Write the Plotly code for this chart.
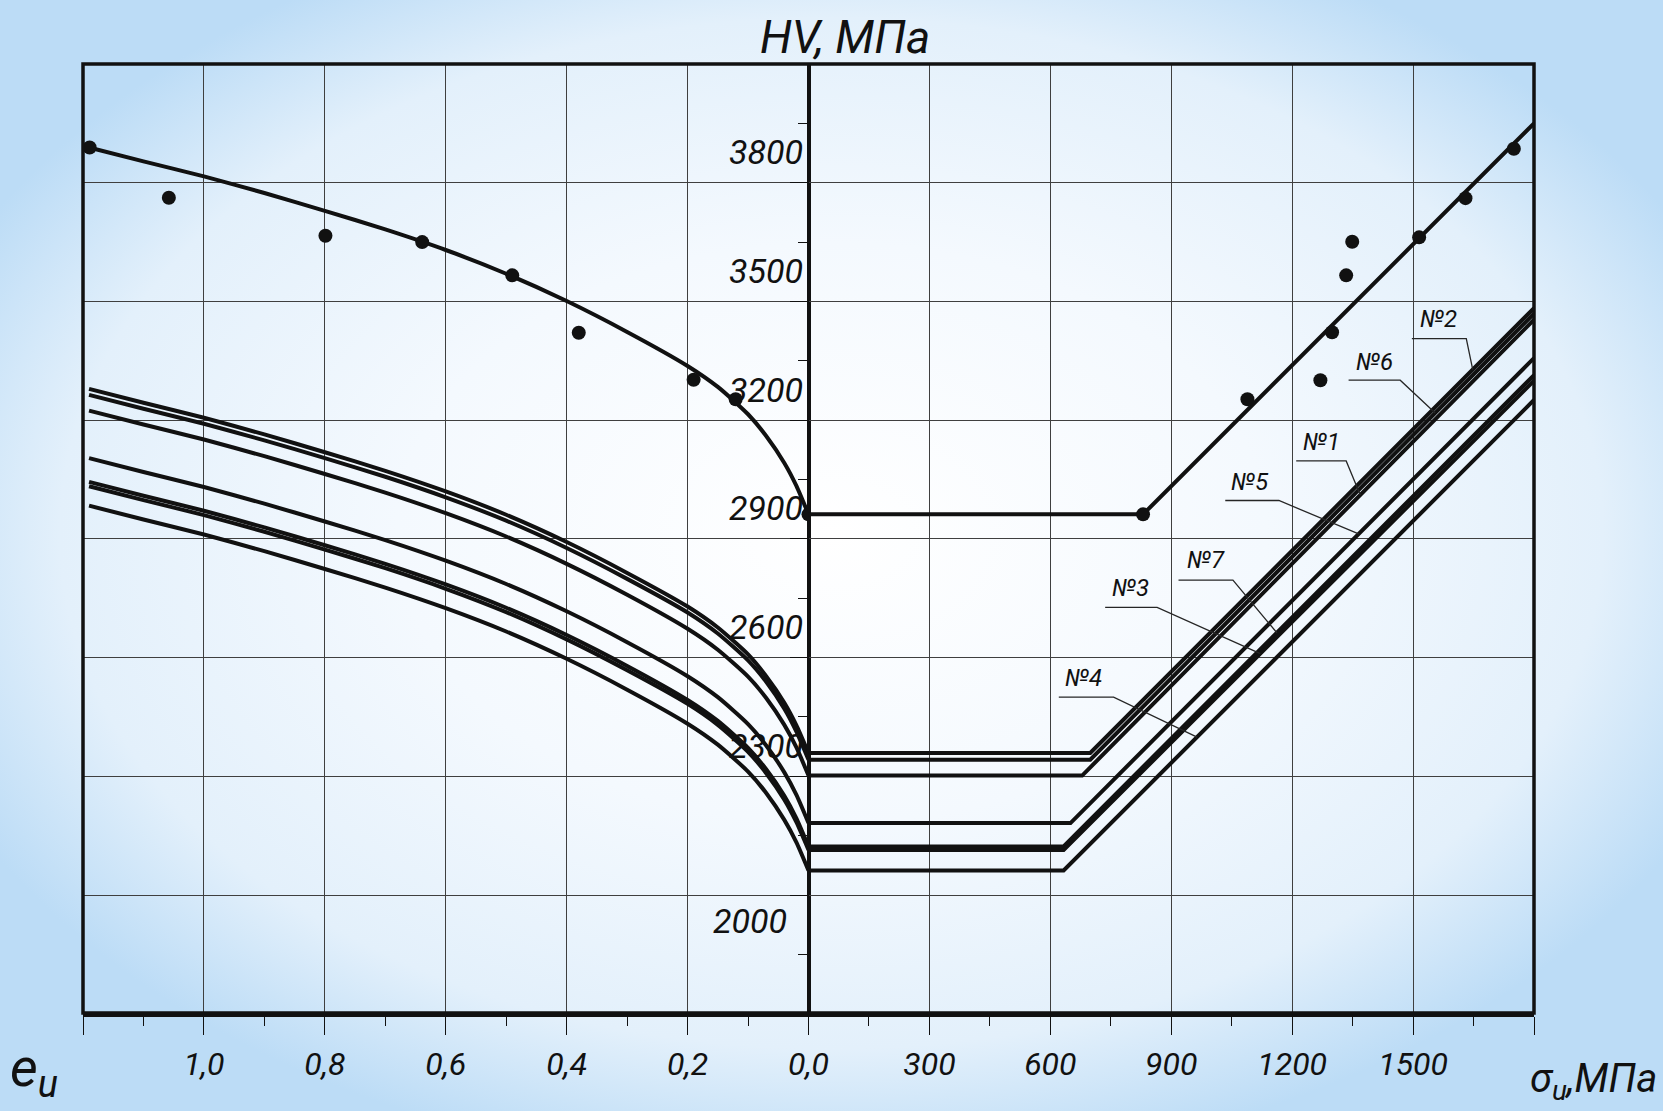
import base64
import numpy as np
import plotly.graph_objects as go

# ---------------- data ----------------
# left panel: strain intensity e_u (axis runs 1.2 -> 0.0)
e_u = [1.19, 1.1, 1.0, 0.9, 0.8, 0.7, 0.6, 0.5, 0.4, 0.3, 0.2, 0.15, 0.1, 0.07, 0.04, 0.02, 0.0]
hv_base_left = [3827, 3792, 3754, 3712, 3667, 3620, 3568, 3508, 3439, 3361, 3275, 3222, 3153, 3098, 3030, 2972, 2900]
hv_no2_left = [3217, 3182, 3144, 3102, 3057, 3010, 2958, 2899, 2830, 2752, 2667, 2614, 2546, 2491, 2424, 2367, 2297]
hv_no6_left = [3202, 3167, 3129, 3087, 3042, 2995, 2943, 2884, 2815, 2737, 2652, 2599, 2531, 2477, 2409, 2351, 2280]
hv_no1_left = [3162, 3127, 3089, 3047, 3002, 2955, 2903, 2844, 2775, 2697, 2611, 2558, 2490, 2436, 2368, 2311, 2240]
hv_no5_left = [3042, 3007, 2969, 2927, 2882, 2835, 2783, 2724, 2655, 2577, 2491, 2438, 2370, 2316, 2248, 2191, 2120]
hv_no7_left = [2982, 2947, 2909, 2867, 2822, 2775, 2723, 2664, 2595, 2517, 2431, 2378, 2310, 2256, 2189, 2132, 2061]
hv_no3_left = [2971, 2936, 2898, 2856, 2811, 2764, 2712, 2653, 2584, 2506, 2421, 2368, 2300, 2246, 2179, 2122, 2052]
hv_no4_left = [2922, 2887, 2849, 2807, 2762, 2715, 2663, 2604, 2535, 2457, 2371, 2318, 2250, 2196, 2128, 2071, 2000]

# right panel: stress intensity sigma_u, MPa (plateau, knee, end)
sig_base = [0, 830, 1800]
hv_base_right = [2900, 2900, 3888]
sig_no2 = [0, 699, 1800]; hv_no2_right = [2297, 2297, 3421]
sig_no6 = [0, 699, 1800]; hv_no6_right = [2280, 2280, 3407]
sig_no1 = [0, 679, 1800]; hv_no1_right = [2240, 2240, 3392]
sig_no5 = [0, 650, 1800]; hv_no5_right = [2120, 2120, 3295]
sig_no7 = [0, 633, 1800]; hv_no7_right = [2061, 2061, 3252]
sig_no3 = [0, 633, 1800]; hv_no3_right = [2052, 2052, 3238]
sig_no4 = [0, 633, 1800]; hv_no4_right = [2000, 2000, 3189]

# experimental points
pts_e = [1.189, 1.058, 0.799, 0.639, 0.490, 0.380, 0.190, 0.1205, 0.0]
pts_e_hv = [3827, 3700, 3604, 3588, 3504, 3359, 3240, 3191, 2900]
pts_sig = [830, 1089, 1270, 1299, 1334, 1349, 1515, 1630, 1750]
pts_sig_hv = [2900, 3191, 3239, 3360, 3504, 3589, 3600, 3699, 3824]

# curve labels (right panel)
label_names = ["№2", "№6", "№1", "№5", "№7", "№3", "№4"]
label_sig = [1562, 1404, 1272, 1096, 987, 798, 683]
label_hv = [3393, 3286, 3084, 2983, 2785, 2715, 2486]
leader_start = [1497, 1340, 1210, 1034, 918, 736, 621]
leader_elbow = [1632, 1468, 1334, 1167, 1053, 865, 757]
leader_hv = [3344, 3239, 3035, 2935, 2734, 2665, 2438]
leader_tip = [1648, 1555, 1369, 1365, 1162, 1121, 964]

# axis ticks
e_ticks = [1.2, 1.0, 0.8, 0.6, 0.4, 0.2, 0.0]
e_ticktext = ["", "1,0", "0,8", "0,6", "0,4", "0,2", "0,0"]
sig_ticks = [0, 300, 600, 900, 1200, 1500, 1800]
sig_ticktext = ["", "300", "600", "900", "1200", "1500", ""]
hv_grid = [1938, 2238, 2538, 2838, 3138, 3438, 3738]
hv_minor = [1788, 2088, 2388, 2688, 2988, 3288, 3588, 3888]
hv_labels = [3800, 3500, 3200, 2900, 2600, 2300, 2000]
hv_label_shift_y = [6, 6, 6, 6, 6, 6, -50]
hv_label_shift_x = [-4, -4, -4, -4, -4, -4, -20]

# ---------------- figure ----------------
FONT = "Roboto, Liberation Sans, sans-serif"
INK = "#111111"
LW = 4.0

fig = go.Figure()

left_curves = [hv_base_left, hv_no2_left, hv_no6_left, hv_no1_left,
               hv_no5_left, hv_no7_left, hv_no3_left, hv_no4_left]
for hv in left_curves:
    fig.add_trace(go.Scatter(x=e_u, y=hv, mode="lines", xaxis="x", yaxis="y",
                             line=dict(color=INK, width=LW, shape="spline", smoothing=0.6),
                             hoverinfo="skip"))

right_lines = [(sig_base, hv_base_right), (sig_no2, hv_no2_right), (sig_no6, hv_no6_right),
               (sig_no1, hv_no1_right), (sig_no5, hv_no5_right), (sig_no7, hv_no7_right),
               (sig_no3, hv_no3_right), (sig_no4, hv_no4_right)]
for s, hv in right_lines:
    fig.add_trace(go.Scatter(x=s, y=hv, mode="lines", xaxis="x2", yaxis="y",
                             line=dict(color=INK, width=LW), hoverinfo="skip"))

fig.add_trace(go.Scatter(x=pts_e, y=pts_e_hv, mode="markers", xaxis="x", yaxis="y",
                         marker=dict(color=INK, size=14), hoverinfo="skip"))
fig.add_trace(go.Scatter(x=pts_sig, y=pts_sig_hv, mode="markers", xaxis="x2", yaxis="y",
                         marker=dict(color=INK, size=14), hoverinfo="skip"))

# leaders: labelled lines in order №2, №6, №1, №5, №7, №3, №4
target_lines = right_lines[1:]
annotations = []
for i, name in enumerate(label_names):
    s, hv = target_lines[i]
    tip_hv = float(np.interp(leader_tip[i], s, hv))
    fig.add_trace(go.Scatter(x=[leader_start[i], leader_elbow[i], leader_tip[i]],
                             y=[leader_hv[i], leader_hv[i], tip_hv],
                             mode="lines", xaxis="x2", yaxis="y",
                             line=dict(color="#262626", width=1.3), hoverinfo="skip"))
    annotations.append(dict(x=label_sig[i], y=label_hv[i], xref="x2", yref="y",
                            text=name, showarrow=False,
                            font=dict(family=FONT, size=24, color=INK, style="italic")))

for v, dy, dx in zip(hv_labels, hv_label_shift_y, hv_label_shift_x):
    annotations.append(dict(x=0.5, y=v, xref="paper", yref="y", xanchor="right",
                            yanchor="middle", xshift=dx, yshift=dy, text=str(v),
                            showarrow=False,
                            font=dict(family=FONT, size=34, color=INK, style="italic")))

annotations.append(dict(x=0.525, y=1.028, xref="paper", yref="paper", xanchor="center",
                        yanchor="middle", text="HV, МПа", showarrow=False,
                        font=dict(family=FONT, size=46, color=INK, style="italic")))
annotations.append(dict(x=-0.052, y=-0.022, xref="paper", yref="paper", xanchor="left",
                        yanchor="top", text="e<sub>u</sub>", showarrow=False,
                        font=dict(family=FONT, size=54, color=INK, style="italic")))
annotations.append(dict(x=1.086, y=-0.072, xref="paper", yref="paper", xanchor="right",
                        yanchor="middle", text="σ<sub>u</sub>,МПа", showarrow=False,
                        font=dict(family=FONT, size=40, color=INK, style="italic")))

# background gradient
svg = ("<svg xmlns='http://www.w3.org/2000/svg' width='1663' height='1111'>"
       "<defs><radialGradient id='g' cx='50%' cy='48%' r='58%'>"
       "<stop offset='0' stop-color='#ffffff'/>"
       "<stop offset='0.45' stop-color='#f4f9fe'/>"
       "<stop offset='0.8' stop-color='#e3f0fb'/>"
       "<stop offset='1' stop-color='#bcdcf6'/>"
       "</radialGradient></defs>"
       "<rect width='1663' height='1111' fill='url(#g)'/></svg>")
svg_uri = "data:image/svg+xml;base64," + base64.b64encode(svg.encode()).decode()

ML, MR, MT, MB = 83, 129, 64, 98
PW, PH = 1663 - ML - MR, 1111 - MT - MB

tickfont = dict(family=FONT, size=32, color=INK, style="italic")
common_x = dict(showgrid=True, gridcolor="#3f3f3f", gridwidth=1.2, zeroline=False,
                showline=True, linecolor=INK, linewidth=4, ticks="outside",
                ticklen=18, tickwidth=1.2, tickcolor=INK, tickfont=tickfont,
                ticklabelstandoff=2, anchor="y")

fig.update_layout(
    width=1663, height=1111,
    margin=dict(l=ML, r=MR, t=MT, b=MB),
    paper_bgcolor="#eaf4fc", plot_bgcolor="rgba(0,0,0,0)",
    showlegend=False,
    xaxis=dict(domain=[0, 0.5], range=[1.2, 0], tickmode="array", tickvals=e_ticks,
               ticktext=e_ticktext,
               minor=dict(dtick=0.1, tick0=0, ticklen=9, tickwidth=1.2, tickcolor=INK,
                          ticks="outside", showgrid=False),
               **common_x),
    xaxis2=dict(domain=[0.5, 1], range=[0, 1800], tickmode="array", tickvals=sig_ticks,
                ticktext=sig_ticktext,
                minor=dict(dtick=150, tick0=0, ticklen=9, tickwidth=1.2, tickcolor=INK,
                           ticks="outside", showgrid=False),
                **common_x),
    yaxis=dict(range=[1640, 4038], anchor="free", position=0.5, side="left",
               showgrid=True, gridcolor="#3f3f3f", gridwidth=1.2, zeroline=False,
               showline=True, linecolor=INK, linewidth=4,
               tickmode="array", tickvals=hv_grid, showticklabels=False,
               ticks="outside", ticklen=17, tickwidth=1.2, tickcolor=INK,
               minor=dict(tickmode="array", tickvals=hv_minor, ticks="outside",
                          ticklen=9, tickwidth=1.2, tickcolor=INK, showgrid=False)),
    annotations=annotations,
    shapes=[dict(type="rect", xref="paper", yref="paper", x0=0, x1=1, y0=0, y1=1,
                 line=dict(color=INK, width=3.5), layer="above")],
    images=[dict(source=svg_uri, xref="paper", yref="paper",
                 x=-ML / PW, y=1 + MT / PH, sizex=1663 / PW, sizey=1111 / PH,
                 xanchor="left", yanchor="top", sizing="stretch", layer="below")],
)

fig.write_html("out.html", config={"displayModeBar": False},
               post_script="document.body.style.margin='0';document.body.style.overflow='hidden';")
